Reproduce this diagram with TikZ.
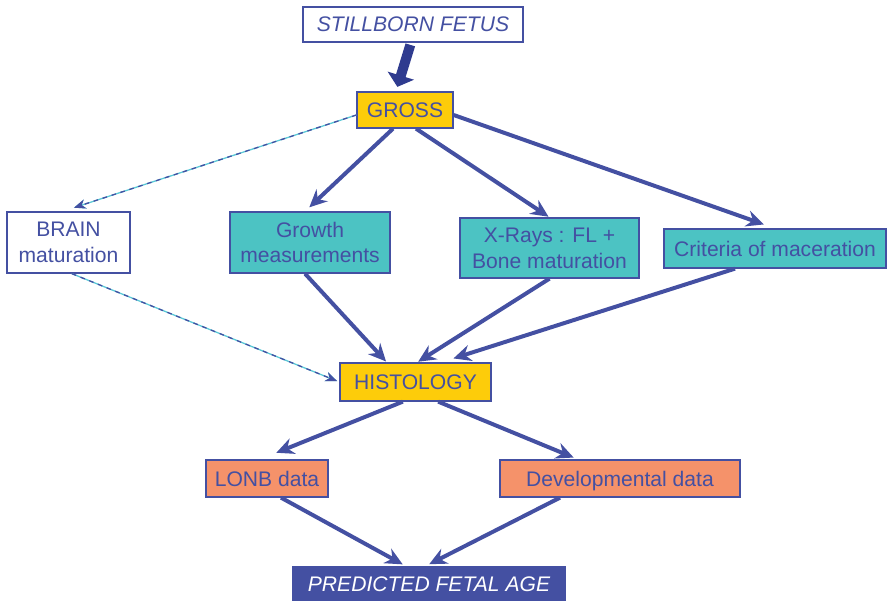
\documentclass[tikz,border=0pt]{standalone}
\usepackage{fontspec}
\setmainfont{Liberation Sans}
\usetikzlibrary{arrows.meta}
\usepackage{xcolor}
\definecolor{ink}{HTML}{4450A2}
\definecolor{gross}{HTML}{FDCC0A}
\definecolor{measure}{HTML}{4CC3C3}
\definecolor{result}{HTML}{F5926A}
\definecolor{deep}{HTML}{2F3B8F}
\definecolor{hair}{HTML}{5BC8D6}

\begin{document}
\begin{tikzpicture}[x=0.03cm,y=-0.03cm,
		box/.style={draw=ink,line width=1.1pt,text=ink,inner sep=0pt,align=center,font=\fontsize{18}{22}\selectfont},
		arr/.style={draw=ink,line width=3.4pt,-{Stealth[length=15pt,width=14pt,inset=5pt]}},
		dashlink/.style={draw=hair,line width=1.1pt,-{Stealth[length=10pt,width=8pt,inset=3pt]},
			postaction={draw=ink,line width=1.1pt,dash pattern=on 4pt off 4pt,-{Stealth[length=10pt,width=8pt,inset=3pt]}}},
		blockarr/.style={draw=deep,line width=8.5pt,-{Triangle[length=10pt,width=23pt]}}
	]
		\useasboundingbox (0,0) rectangle (889,601);
		%
		\node[box,fill=white,minimum width=6.6cm,minimum height=1.05cm,font=\fontsize{18}{22}\selectfont\itshape] (fetus) at (413,24.5) {STILLBORN FETUS};
		\node[box,fill=gross,minimum width=2.88cm,minimum height=1.08cm] (gross) at (405,110) {GROSS};
		%
		\node[box,fill=white,minimum width=3.69cm,minimum height=1.83cm] (brain) at (68.5,242.5) {BRAIN\\maturation};
		\node[box,fill=measure,minimum width=4.8cm,minimum height=1.83cm] (growth) at (310,242.5) {Growth\\measurements};
		\node[box,fill=measure,minimum width=5.37cm,minimum height=1.8cm] (xrays) at (549.5,248) {X-Rays : FL +\\Bone maturation};
		\node[box,fill=measure,minimum width=6.66cm,minimum height=1.17cm] (criteria) at (775,248.5) {Criteria of maceration};
		%
		\node[box,fill=gross,minimum width=4.53cm,minimum height=1.14cm] (histology) at (415.5,382) {HISTOLOGY};
		%
		\node[box,fill=result,minimum width=3.66cm,minimum height=1.11cm] (lonb) at (267,478.5) {LONB data};
		\node[box,fill=result,minimum width=7.2cm,minimum height=1.11cm,text depth=0pt] (devel) at (620,478.5) {Developmental data};
		\node[box,fill=ink,text=white,minimum width=8.16cm,minimum height=1.02cm,font=\fontsize{18}{22}\selectfont\itshape] (predicted) at (429,584) {PREDICTED FETAL AGE};
		%
		\draw[blockarr,shorten <=2pt,shorten >=4pt] ([xshift=-0.06cm]fetus.south) -- ([xshift=-0.27cm]gross.north);
		%
		\draw[arr,shorten >=5pt] ([xshift=-0.36cm]gross.south) -- ([xshift=-0.15cm]growth.north);
		\draw[arr,shorten >=1pt] ([xshift=0.33cm]gross.south) -- (xrays.north);
		\draw[arr,shorten >=10pt] ([yshift=-0.15cm]gross.east) -- (criteria.north);
		\draw[dashlink,shorten >=10pt] ([yshift=-0.15cm]gross.west) -- ([xshift=-0.17cm]brain.north);
		%
		\draw[arr,shorten >=1pt] ([xshift=-0.15cm]growth.south) -- ([xshift=-0.86cm]histology.north);
		\draw[arr,shorten >=1pt] (xrays.south) -- ([xshift=0.05cm]histology.north);
		\draw[arr,shorten >=11pt] ([xshift=-1.2cm]criteria.south) -- ([xshift=0.77cm]histology.north);
		\draw[dashlink,shorten >=2pt] ([xshift=0.1cm]brain.south) -- (histology.west);
		%
		\draw[arr,shorten >=15pt] ([xshift=-0.38cm]histology.south) -- ([xshift=-0.21cm]lonb.north);
		\draw[arr,shorten >=4pt] ([xshift=0.68cm]histology.south) -- ([xshift=-1.26cm]devel.north);
		\draw[arr,shorten >=3.5pt] ([xshift=0.42cm]lonb.south) -- ([xshift=-0.68cm]predicted.north);
		\draw[arr,shorten >=4pt] ([xshift=-1.8cm]devel.south) -- ([xshift=-0.12cm]predicted.north);
	\end{tikzpicture}
\end{document}
